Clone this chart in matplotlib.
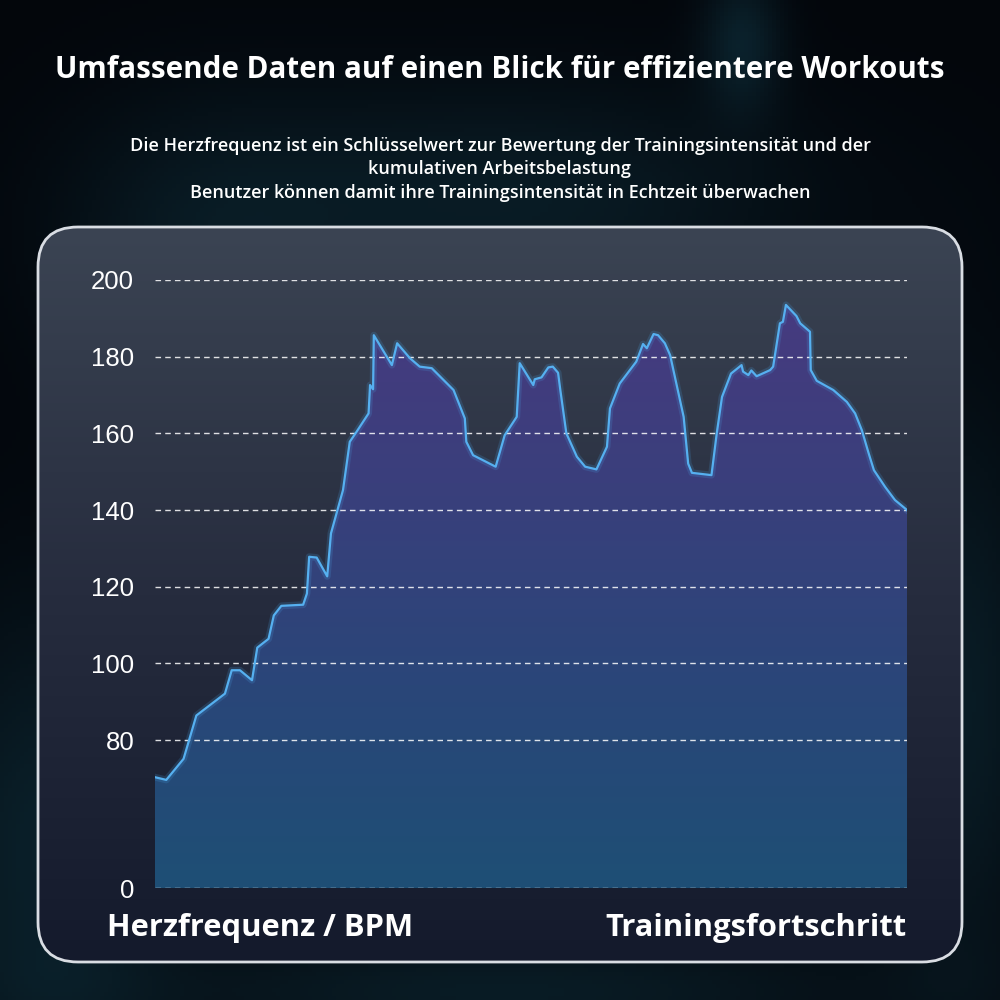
import numpy as np
import matplotlib
matplotlib.use("Agg")
import matplotlib.pyplot as plt
from matplotlib.patches import FancyBboxPatch
from matplotlib.colors import LinearSegmentedColormap
from matplotlib.scale import FuncScale

# Daten: Trainingsfortschritt (%) und Herzfrequenz (BPM)
progress = [0, 1.5, 3.8, 5.5, 9.3, 10.2, 11.3, 12.9, 13.6, 15.1, 15.8, 16.8, 19.7, 20.2,
            20.5, 21.5, 22.9, 23.4, 25.0, 25.9, 26.8, 28.4, 28.6, 29.0, 29.1, 31.5, 32.2,
            33.9, 35.2, 36.8, 39.7, 41.2, 41.4, 42.3, 45.3, 46.5, 48.1, 48.5, 50.3, 50.5,
            51.4, 52.3, 52.9, 53.6, 53.9, 54.7, 56.1, 57.2, 58.7, 60.1, 60.5, 61.8, 64.0,
            64.9, 65.4, 66.3, 66.9, 67.8, 68.5, 70.3, 70.9, 71.4, 74.0, 74.7, 75.4, 76.6,
            78.0, 78.2, 78.9, 79.3, 80.0, 81.8, 82.2, 83.1, 83.5, 83.9, 85.3, 85.8, 87.1,
            87.2, 88.0, 90.2, 92.0, 93.1, 94.0, 94.9, 95.6, 97.1, 98.4, 100]
heart_rate = [70.3, 69.6, 75.1, 86.4, 92.1, 98.2, 98.2, 95.6, 104.1, 106.4, 112.5, 115.0,
              115.3, 118.2, 127.8, 127.6, 122.7, 133.9, 145.2, 157.8, 160.4, 165.2, 172.6,
              171.5, 185.6, 177.8, 183.5, 179.6, 177.4, 177.0, 171.3, 163.9, 157.8, 154.3,
              151.3, 159.5, 164.3, 178.3, 172.6, 174.1, 174.6, 177.2, 177.4, 175.8, 171.3,
              160.0, 153.9, 151.3, 150.6, 156.5, 166.5, 173.0, 178.7, 183.3, 182.2, 185.9,
              185.6, 183.5, 180.4, 164.3, 152.1, 149.7, 149.1, 160.0, 169.5, 175.6, 177.8,
              176.1, 175.2, 176.4, 174.9, 176.5, 177.4, 188.7, 189.1, 193.5, 190.6, 188.7,
              186.5, 176.5, 173.7, 171.3, 168.2, 165.2, 160.8, 154.8, 150.4, 146.0, 142.6,
              140.0]
y_ticks = [0, 80, 100, 120, 140, 160, 180, 200]

title = "Umfassende Daten auf einen Blick für effizientere Workouts"
subtitle = ["Die Herzfrequenz ist ein Schlüsselwert zur Bewertung der Trainingsintensität und der",
            "kumulativen Arbeitsbelastung",
            "Benutzer können damit ihre Trainingsintensität in Echtzeit überwachen"]
y_label = "Herzfrequenz / BPM"
x_label = "Trainingsfortschritt"

HEAD = "Open Sans"

fig = plt.figure(figsize=(10, 10), dpi=100)
fig.patch.set_facecolor("#03060b")

# Hintergrund (Pixelkoordinaten)
bg = fig.add_axes([0, 0, 1, 1])
bg.set_xlim(0, 1000)
bg.set_ylim(1000, 0)
bg.axis("off")
yy, xx = np.mgrid[0:1000:4, 0:1000:4]
glow = np.zeros_like(xx, dtype=float)
for cx, cy, sx, sy, a in [(740, 40, 40, 70, 0.35), (500, 200, 300, 120, 0.3),
                          (40, 850, 120, 250, 0.35), (960, 700, 80, 300, 0.3),
                          (500, 990, 400, 60, 0.3), (200, 250, 150, 150, 0.2)]:
    glow += a * np.exp(-(((xx - cx) / sx) ** 2 + ((yy - cy) / sy) ** 2))
bg_cmap = LinearSegmentedColormap.from_list("bg", ["#03060b", "#0d2a36", "#1f5566"])
bg.imshow(np.clip(glow, 0, 1), extent=[0, 1000, 1000, 0], cmap=bg_cmap,
          vmin=0, vmax=1, aspect="auto", zorder=0)

# Panel mit Verlauf
panel = FancyBboxPatch((38, 227), 924, 735, boxstyle="round,pad=0,rounding_size=40",
                       facecolor="none", edgecolor="#d9dde3", linewidth=2, zorder=3)
bg.add_patch(panel)
panel_cmap = LinearSegmentedColormap.from_list("panel", ["#3b4453", "#262c3e", "#141a2c"])
pg = np.linspace(0, 1, 256).reshape(-1, 1)
im = bg.imshow(pg, extent=[38, 962, 962, 227], cmap=panel_cmap, aspect="auto", zorder=1)
im.set_clip_path(panel)
bg.set_xlim(0, 1000)
bg.set_ylim(1000, 0)


# y-Achse: unterhalb von 60 gestaucht
def fwd(v):
    v = np.asarray(v, dtype=float)
    return np.where(v >= 60, v, 60 - (60 - v) * 0.31)


def inv(p):
    p = np.asarray(p, dtype=float)
    return np.where(p >= 60, p, 60 - (60 - p) / 0.31)


ax = fig.add_axes([0.155, 0.112, 0.752, 0.608])
ax.patch.set_alpha(0)
ax.set_yscale(FuncScale(ax, (fwd, inv)))
ax.set_xlim(0, 100)
ax.set_ylim(0, 200)

fill = ax.fill_between(progress, heart_rate, 0, color="none", linewidth=0)
area_cmap = LinearSegmentedColormap.from_list("area", ["#483a80", "#3a3f7c", "#2a4679", "#1e4f75"])
ag = np.linspace(0, 1, 256).reshape(-1, 1)
aim = ax.imshow(ag, extent=[0, 1, 0, 1], transform=ax.transAxes, cmap=area_cmap,
                aspect="auto", zorder=1)
aim.set_clip_path(fill.get_paths()[0], transform=ax.transData)
ax.plot(progress, heart_rate, color="#4aa6ea", linewidth=5, alpha=0.18, zorder=2)
ax.plot(progress, heart_rate, color="#56b0f0", linewidth=1.6, zorder=3)
ax.set_xlim(0, 100)
ax.set_ylim(0, 200)

ax.set_yticks(y_ticks)
ax.set_yticklabels([str(t) for t in y_ticks], fontsize=18.5, color="white",
                   family="Liberation Sans")
ax.tick_params(axis="y", length=0, pad=15)
ax.set_xticks([])
ax.grid(axis="y", color="white", linestyle=(0, (4, 3)), linewidth=1, alpha=0.85, zorder=4)
ax.set_axisbelow(False)
for s in ax.spines.values():
    s.set_visible(False)

fig.text(0.5, 0.930, title, ha="center", va="center", color="white",
         fontsize=21.3, fontweight="bold", family=HEAD)
for i, line in enumerate(subtitle):
    fig.text(0.5, 1 - (146 + 23.5 * i) / 1000, line, ha="center", va="center",
             color="white", fontsize=13, fontweight="semibold", family=HEAD)
fig.text(0.107, 1 - 928 / 1000, y_label, ha="left", va="center", color="white",
         fontsize=22.2, fontweight="bold", family=HEAD)
fig.text(0.907, 1 - 928 / 1000, x_label, ha="right", va="center", color="white",
         fontsize=22.2, fontweight="bold", family=HEAD)

fig.savefig("out.png", dpi=100, facecolor=fig.get_facecolor())
